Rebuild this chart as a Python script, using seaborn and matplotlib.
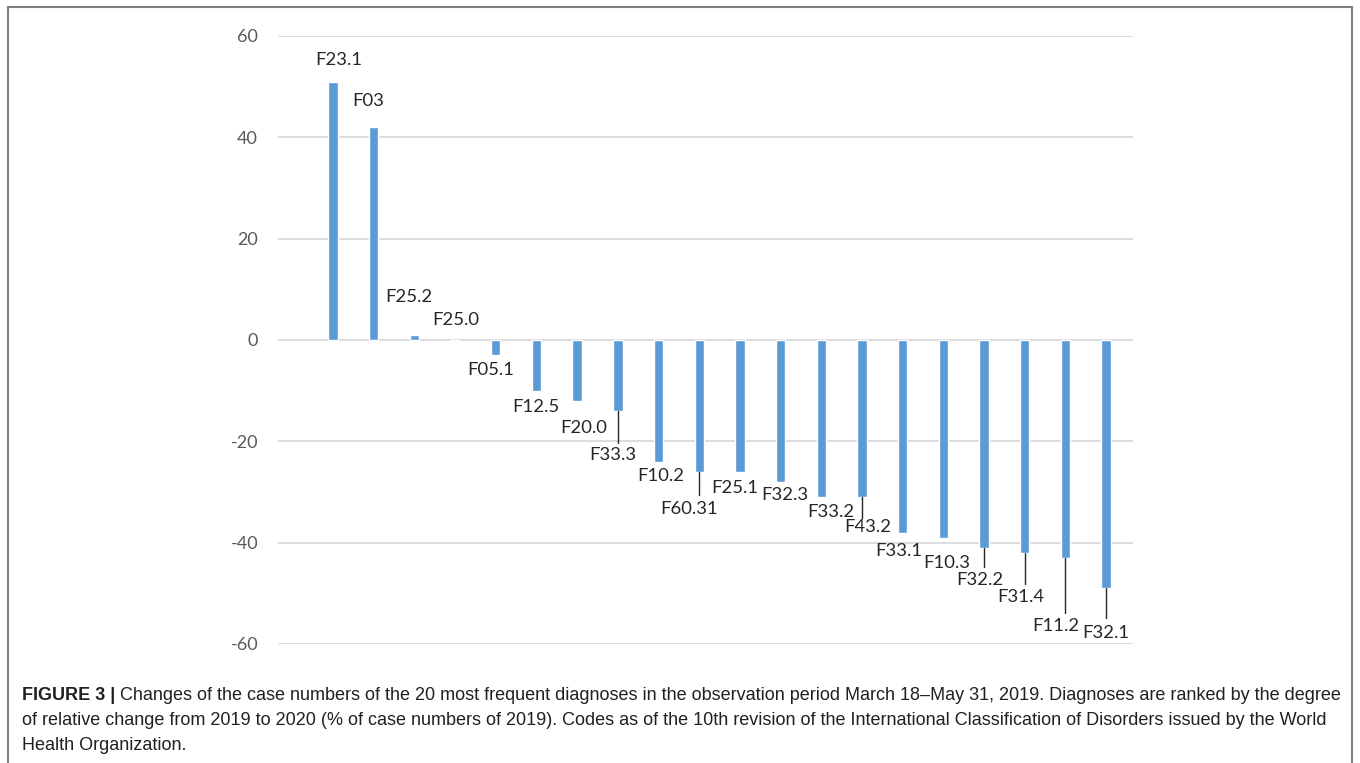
import matplotlib
matplotlib.use("Agg")
import matplotlib.pyplot as plt
import seaborn as sns
import pandas as pd
from matplotlib.patches import Rectangle

# ---------------- data ----------------
codes = ["F23.1", "F03", "F25.2", "F25.0", "F05.1", "F12.5", "F20.0", "F33.3",
         "F10.2", "F60.31", "F25.1", "F32.3", "F33.2", "F43.2", "F33.1",
         "F10.3", "F32.2", "F31.4", "F11.2", "F32.1"]
change = [51, 42, 1, 0, -3, -10, -12, -14, -24, -26, -26, -28, -31, -31,
          -38, -39, -41, -42, -43, -49]
yticks = [-60, -40, -20, 0, 20, 40, 60]

# label placement (x offset in category units, y in data units)
label_dx = [0.15, 0.86 - 1, 1.87 - 2, 3.02 - 3, 3.88 - 4, 4.99 - 5, 6.17 - 6,
            6.88 - 7, 8.06 - 8, 8.75 - 9, 9.88 - 10, 11.11 - 11, 12.24 - 12,
            13.13 - 13, 13.91 - 14, 15.09 - 15, 15.90 - 16, 16.91 - 17,
            17.77 - 18, 19.0 - 19]
label_y = [55.2, 47.1, 8.5, 4.0, -5.9, -13.3, -17.4, -22.6, -26.9, -33.3,
           -29.3, -30.5, -33.9, -37.0, -41.6, -44.0, -47.3, -50.7, -56.4, -57.8]
# leader-line lower ends (None = no leader)
leader_end = [None, None, None, None, None, None, None, -20.4, None, -30.5,
              None, None, None, -35.2, None, None, -44.8, -48.1, -53.9, -54.9]

caption_bold = "FIGURE 3 |"
caption_lines = [
    " Changes of the case numbers of the 20 most frequent diagnoses in the observation period March 18\u2013May 31, 2019. Diagnoses are ranked by the degree",
    "of relative change from 2019 to 2020 (% of case numbers of 2019). Codes as of the 10th revision of the International Classification of Disorders issued by the World",
    "Health Organization.",
]

# ---------------- figure ----------------
sns.set_style("white")
plt.rcParams["font.family"] = ["Lato", "DejaVu Sans"]

W, H = 1360, 763
fig = plt.figure(figsize=(W / 100, H / 100), dpi=100)
fig.patch.set_facecolor("white")

ax = fig.add_axes([278 / W, (H - 644) / H, (1133 - 278) / W, (644 - 36) / H])

df = pd.DataFrame({"code": codes, "change": change})
sns.barplot(data=df, x="code", y="change", order=codes, color="#5B9BD5",
            saturation=1, width=0.23, ax=ax, zorder=3)

ax.set_ylim(-60, 60)
ax.set_xlim(-1.352, 19.66)
ax.set_yticks(yticks)
ax.set_yticklabels([str(v) for v in yticks], fontsize=13, color="#595959")
ax.set_xticks([])
ax.set_xlabel("")
ax.set_ylabel("")
ax.tick_params(axis="y", length=0, pad=14.4)
for s in ax.spines.values():
    s.set_visible(False)
for v in yticks:
    ax.axhline(v, color="#D9D9D9", lw=1.3, zorder=1)

for i, code in enumerate(codes):
    ax.text(i + label_dx[i], label_y[i], code, ha="center", va="center",
            fontsize=13.3, color="#262626", zorder=5)
    if leader_end[i] is not None:
        ax.plot([i, i], [change[i], leader_end[i]], color="#262626", lw=1.0,
                zorder=4)

# outer frame (open at the bottom, as in the cropped figure)
fig.patches.append(Rectangle((8 / W, -0.05), (1352 - 8) / W, 1.05 - 7 / H,
                             transform=fig.transFigure, fill=False,
                             edgecolor="#7F7F7F", lw=1.5))

# caption
fs = 13.0
cap_font = ["Liberation Sans", "DejaVu Sans"]
y0 = 1 - 695 / H
dy = 25.5 / H
tb = fig.text(22 / W, y0, caption_bold, fontsize=fs, fontweight="bold",
              family=cap_font, va="center", ha="left", color="#231F20")
fig.canvas.draw()
bb = tb.get_window_extent()
fig.text(bb.x1 / W, y0, caption_lines[0], fontsize=fs, family=cap_font,
         va="center", ha="left", color="#231F20")
for k, line in enumerate(caption_lines[1:], start=1):
    fig.text(22 / W, y0 - k * dy, line, fontsize=fs, family=cap_font,
             va="center", ha="left", color="#231F20")

fig.savefig("out.png", dpi=100)
